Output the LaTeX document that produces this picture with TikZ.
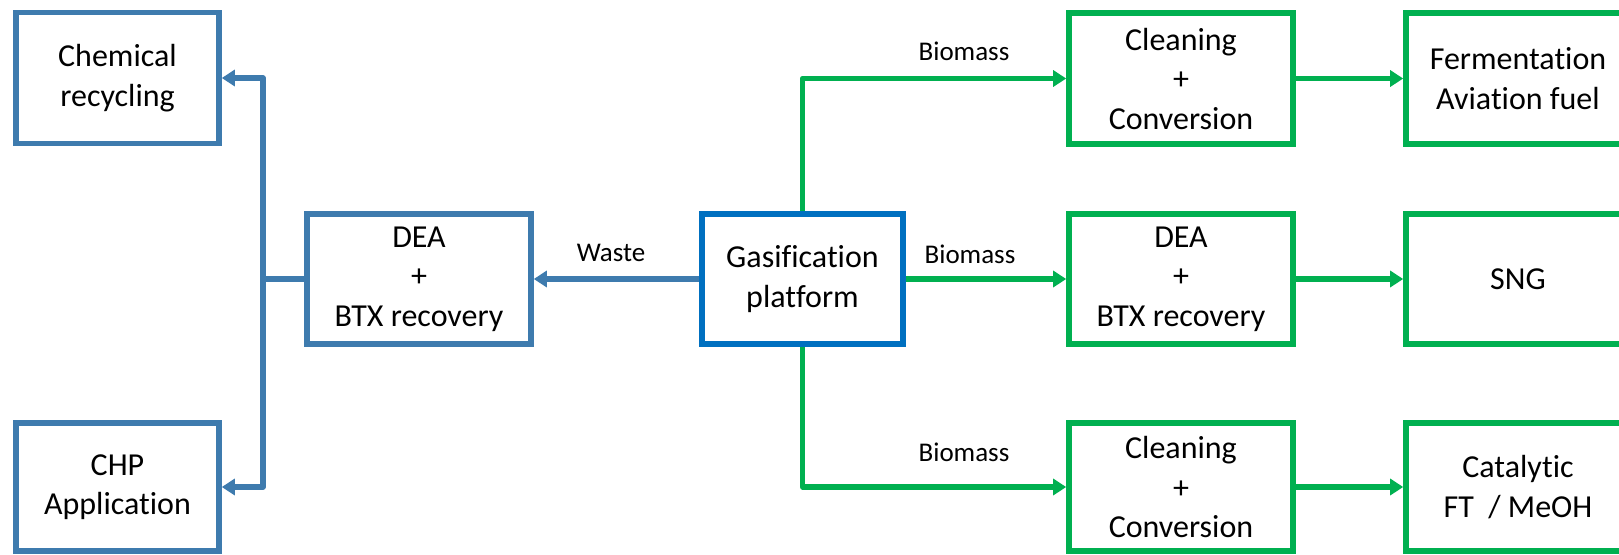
\documentclass[tikz,border=0pt]{standalone}
\usepackage{fontspec}
\setmainfont{Carlito}[Ligatures={NoCommon,NoContextual}]
\usetikzlibrary{arrows.meta}
\definecolor{sblue}{HTML}{3E7BAE}
\definecolor{gblue}{HTML}{0070C0}
\definecolor{ggreen}{HTML}{00B050}
\begin{document}
\begin{tikzpicture}[x=0.5pt,y=-0.5pt,
  box/.style={draw, line width=2.8pt, align=center, inner sep=0pt,
    font=\fontsize{16}{19.75}\selectfont},
  lbox/.style={box, draw=sblue, minimum width=101.5pt},
  mbox/.style={box, minimum width=112pt},
  toprow/.style={minimum height=65.5pt},
  midrow/.style={minimum height=65pt},
  botrow/.style={minimum height=64pt},
  conn/.style={line width=2.7pt, line join=round, -{Triangle[length=6.5pt,width=8pt]}},
  bconn/.style={conn, draw=sblue},
  gconn/.style={conn, draw=ggreen},
  lab/.style={font=\fontsize{13.5}{16}\selectfont, inner sep=0pt}
]
\useasboundingbox (0,0) rectangle (1619,554);
\clip (0,0) rectangle (1619,554);

% left column
\node[lbox, toprow] (chem) at (117.5,78) {Chemical\\recycling};
\node[lbox, botrow] (chp) at (117.5,487) {CHP\\Application};
\node[mbox, midrow, draw=sblue] (dea1) at (419,279) {DEA\\+\\BTX recovery};
\node[box, midrow, draw=gblue, minimum width=100.5pt] (gas) at (802.5,279) {Gasification\\platform};

% middle green column
\node[mbox, toprow, draw=ggreen] (cl1) at (1181,78.5) {Cleaning\\+\\Conversion};
\node[mbox, midrow, draw=ggreen] (dea2) at (1181,279) {DEA\\+\\BTX recovery};
\node[mbox, botrow, draw=ggreen] (cl2) at (1181,487) {Cleaning\\+\\Conversion};

% right green column (cut at the edge)
\node[mbox, toprow, draw=ggreen] (ferm) at (1518,78.5) {Fermentation\\Aviation fuel};
\node[mbox, midrow, draw=ggreen] (sng) at (1518,279) {SNG};
\node[mbox, botrow, draw=ggreen] (cat) at (1518,487) {Catalytic\\FT~ / MeOH};

% blue connectors
\coordinate (j) at (263,279);
\draw[line width=2.7pt, draw=sblue] (dea1.west) -- (j);
\draw[bconn] (263,281) |- (chem.east);
\draw[bconn] (263,277) |- (chp.east);
\draw[bconn] (gas.west) -- (dea1.east);

% green connectors
\draw[gconn] (gas.north) |- (cl1.west);
\draw[gconn] (gas.east) -- (dea2.west);
\draw[gconn] (gas.south) |- (cl2.west);
\draw[gconn] (cl1.east) -- (ferm.west);
\draw[gconn] (dea2.east) -- (sng.west);
\draw[gconn] (cl2.east) -- (cat.west);

% labels
\node[lab] (lw) at (611,253) {Waste};
\node[lab] (lb1) at (964,51) {Biomass};
\node[lab] (lb2) at (970,254) {Biomass};
\node[lab] (lb3) at (964,452) {Biomass};
\end{tikzpicture}
\end{document}
